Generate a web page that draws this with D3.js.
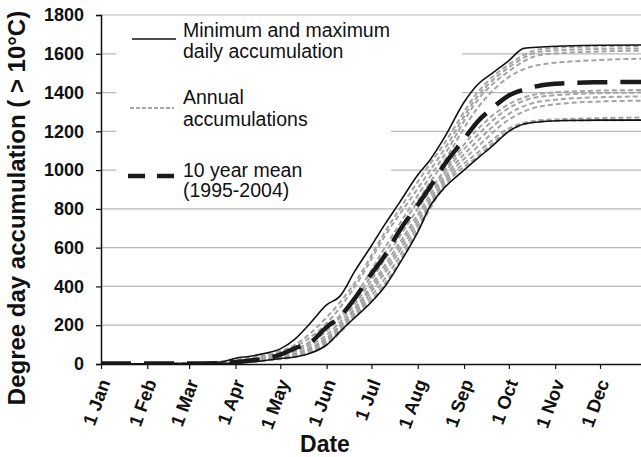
<!DOCTYPE html>
<html>
<head>
<meta charset="utf-8">
<script src="https://cdnjs.cloudflare.com/ajax/libs/d3/7.8.5/d3.min.js"></script>
<style>
  body { margin: 0; background: #fff; }
  svg { display: block; font-family: "Liberation Sans", Arial, sans-serif; }
</style>
</head>
<body>
<div id="chart"></div>
<script>
var width = 641, height = 457;
var margin = {top: 15, right: 0, bottom: 93, left: 101};

// x axis: day of year for the first of each month
var monthDays = [0, 31, 59, 90, 120, 151, 181, 212, 243, 273, 304, 334];
var monthLabels = ["1 Jan", "1 Feb", "1 Mar", "1 Apr", "1 May", "1 Jun",
                   "1 Jul", "1 Aug", "1 Sep", "1 Oct", "1 Nov", "1 Dec"];
var yTicks = [0, 200, 400, 600, 800, 1000, 1200, 1400, 1600, 1800];

// envelope + 10 year mean, sampled at these days
var envDays = [0, 31, 59, 80, 90, 100, 110, 120, 130, 140, 151, 160, 170, 181,
               190, 200, 212, 220, 230, 243, 252, 262, 273, 283, 295, 310, 334, 364];
var maxAccum = [0, 1, 3, 10, 30, 40, 55, 78, 130, 210, 305, 350, 480, 610,
                720, 835, 975, 1050, 1170, 1350, 1440, 1500, 1565, 1628, 1635, 1640, 1644, 1645];
var minAccum = [0, 0, 0, 3, 5, 10, 18, 28, 36, 55, 98, 167, 240, 320,
                400, 520, 680, 810, 910, 1000, 1060, 1125, 1200, 1238, 1250, 1256, 1258, 1258];
var meanAccum = [2, 2, 2, 5, 10, 18, 28, 48, 82, 110, 190, 244, 340, 465,
                 560, 690, 820, 910, 1030, 1160, 1250, 1320, 1385, 1415, 1438, 1448, 1453, 1455];

// annual accumulations 1995-2004
var annualDays = [0, 59, 90, 110, 130, 151, 170, 190, 212, 230, 252, 273, 295, 334, 364];
var y1995 = [0, 2, 22, 45, 100, 240, 420, 680, 940, 1140, 1400, 1545, 1625, 1638, 1640];
var y1996 = [0, 2, 18, 40, 90, 210, 400, 660, 905, 1110, 1380, 1530, 1612, 1625, 1628];
var y1997 = [0, 1, 15, 35, 75, 180, 350, 600, 870, 1080, 1360, 1510, 1595, 1612, 1616];
var y1998 = [0, 1, 12, 30, 70, 170, 330, 570, 840, 1050, 1320, 1480, 1545, 1568, 1575];
var y1999 = [0, 1, 10, 25, 65, 150, 310, 540, 800, 1000, 1210, 1340, 1395, 1410, 1413];
var y2000 = [0, 1, 8, 22, 55, 135, 290, 510, 770, 985, 1180, 1320, 1380, 1397, 1400];
var y2001 = [0, 1, 8, 22, 50, 130, 280, 490, 750, 965, 1150, 1290, 1355, 1376, 1380];
var y2002 = [0, 0, 6, 20, 45, 120, 265, 470, 730, 950, 1120, 1260, 1330, 1354, 1358];
var y2003 = [0, 0, 6, 20, 40, 110, 255, 440, 710, 935, 1090, 1215, 1258, 1268, 1272];
var y2004 = [0, 0, 5, 18, 38, 100, 245, 415, 690, 920, 1070, 1202, 1252, 1257, 1258];
var annual = [y1995, y1996, y1997, y1998, y1999, y2000, y2001, y2002, y2003, y2004];

var svg = d3.select("#chart").append("svg")
    .attr("width", width)
    .attr("height", height);

var x = d3.scaleLinear()
    .domain([0, 364])
    .range([margin.left, margin.left + 364 * 499 / 334]);
var y = d3.scaleLinear()
    .domain([0, 1800])
    .range([364, margin.top]);

svg.append("defs").append("clipPath").attr("id", "plot")
    .append("rect")
    .attr("x", margin.left).attr("y", 0)
    .attr("width", width - margin.left).attr("height", 365);

// gridlines
svg.append("g")
    .selectAll("line")
    .data(yTicks.slice(1))
    .enter().append("line")
    .attr("x1", margin.left).attr("x2", width)
    .attr("y1", d => y(d)).attr("y2", d => y(d))
    .style("stroke", "#b8b8b8")
    .style("stroke-width", 1.2);

// legend background hides part of the gridlines
svg.append("rect").attr("x", 116).attr("y", 20).attr("width", 275).attr("height", 180).style("fill", "#fff");
svg.append("rect").attr("x", 390).attr("y", 20).attr("width", 72).attr("height", 90).style("fill", "#fff");

var line = d3.line()
    .x(d => x(d[0]))
    .y(d => y(d[1]))
    .curve(d3.curveMonotoneX);

var plot = svg.append("g").attr("clip-path", "url(#plot)");

// annual accumulations
plot.selectAll(".annual")
    .data(annual)
    .enter().append("path")
    .attr("class", "annual")
    .attr("d", vals => line(annualDays.map((d, i) => [d, vals[i]])))
    .style("fill", "none")
    .style("stroke", "#a3a3a3")
    .style("stroke-width", 2)
    .style("stroke-dasharray", "5,3");

// min and max
[minAccum, maxAccum].forEach(vals => {
    plot.append("path")
        .attr("d", line(envDays.map((d, i) => [d, vals[i]])))
        .style("fill", "none")
        .style("stroke", "#111")
        .style("stroke-width", 1.6);
});

// 10 year mean
plot.append("path")
    .attr("d", line(envDays.map((d, i) => [d, meanAccum[i]])))
    .style("fill", "none")
    .style("stroke", "#1a1a1a")
    .style("stroke-width", 4.5)
    .style("stroke-dasharray", "30,13");

// y axis
var yAxis = svg.append("g")
    .attr("transform", "translate(" + margin.left + ",0)")
    .call(d3.axisLeft(y).tickValues(yTicks).tickFormat(d3.format("d"))
        .tickSize(5).tickPadding(12));
yAxis.select(".domain").style("stroke", "#111").style("stroke-width", 1.5);
yAxis.selectAll(".tick line").style("stroke", "#111").style("stroke-width", 1.2);
yAxis.selectAll("text")
    .style("font-family", "Liberation Sans, Arial, sans-serif")
    .style("font-size", "18px")
    .style("font-weight", "bold")
    .style("fill", "#111");

// x axis
var xAxis = svg.append("g")
    .attr("transform", "translate(0,364)")
    .call(d3.axisBottom(x).tickValues(monthDays)
        .tickFormat((d, i) => monthLabels[i]).tickSize(5).tickSizeOuter(0));
xAxis.select(".domain").style("stroke", "#111").style("stroke-width", 1.5);
xAxis.selectAll(".tick line").style("stroke", "#111").style("stroke-width", 1.2);
xAxis.selectAll("text")
    .style("font-family", "Liberation Sans, Arial, sans-serif")
    .style("font-size", "18.5px")
    .style("font-weight", "bold")
    .style("fill", "#111")
    .style("text-anchor", "end")
    .attr("x", 0).attr("y", 0).attr("dy", "0.35em")
    .attr("transform", "translate(3,16) rotate(-70)");

// axis titles
svg.append("text")
    .attr("transform", "translate(25,208) rotate(-90)")
    .attr("text-anchor", "middle")
    .style("font-size", "24px")
    .style("font-weight", "bold")
    .style("fill", "#111")
    .text("Degree day accumulation ( > 10°C)");

svg.append("text")
    .attr("x", 325).attr("y", 452)
    .attr("text-anchor", "middle")
    .style("font-size", "23px")
    .style("font-weight", "bold")
    .style("fill", "#111")
    .text("Date");

// legend
var legend = svg.append("g").style("font-size", "19.5px").style("fill", "#111");
legend.append("line").attr("x1", 132).attr("x2", 176).attr("y1", 39).attr("y2", 39)
    .style("stroke", "#111").style("stroke-width", 1.6);
legend.append("text").attr("x", 183).attr("y", 37).text("Minimum and maximum");
legend.append("text").attr("x", 183).attr("y", 57.5).text("daily accumulation");

legend.append("line").attr("x1", 130).attr("x2", 174).attr("y1", 108).attr("y2", 108)
    .style("stroke", "#a3a3a3").style("stroke-width", 2).style("stroke-dasharray", "4,2");
legend.append("text").attr("x", 183).attr("y", 104).text("Annual");
legend.append("text").attr("x", 183).attr("y", 126).text("accumulations");

legend.append("line").attr("x1", 128).attr("x2", 174).attr("y1", 176).attr("y2", 176)
    .style("stroke", "#1a1a1a").style("stroke-width", 4.5).style("stroke-dasharray", "17,12");
legend.append("text").attr("x", 183).attr("y", 176.5).text("10 year mean");
legend.append("text").attr("x", 183).attr("y", 196.5).text("(1995-2004)");
</script>
</body>
</html>
